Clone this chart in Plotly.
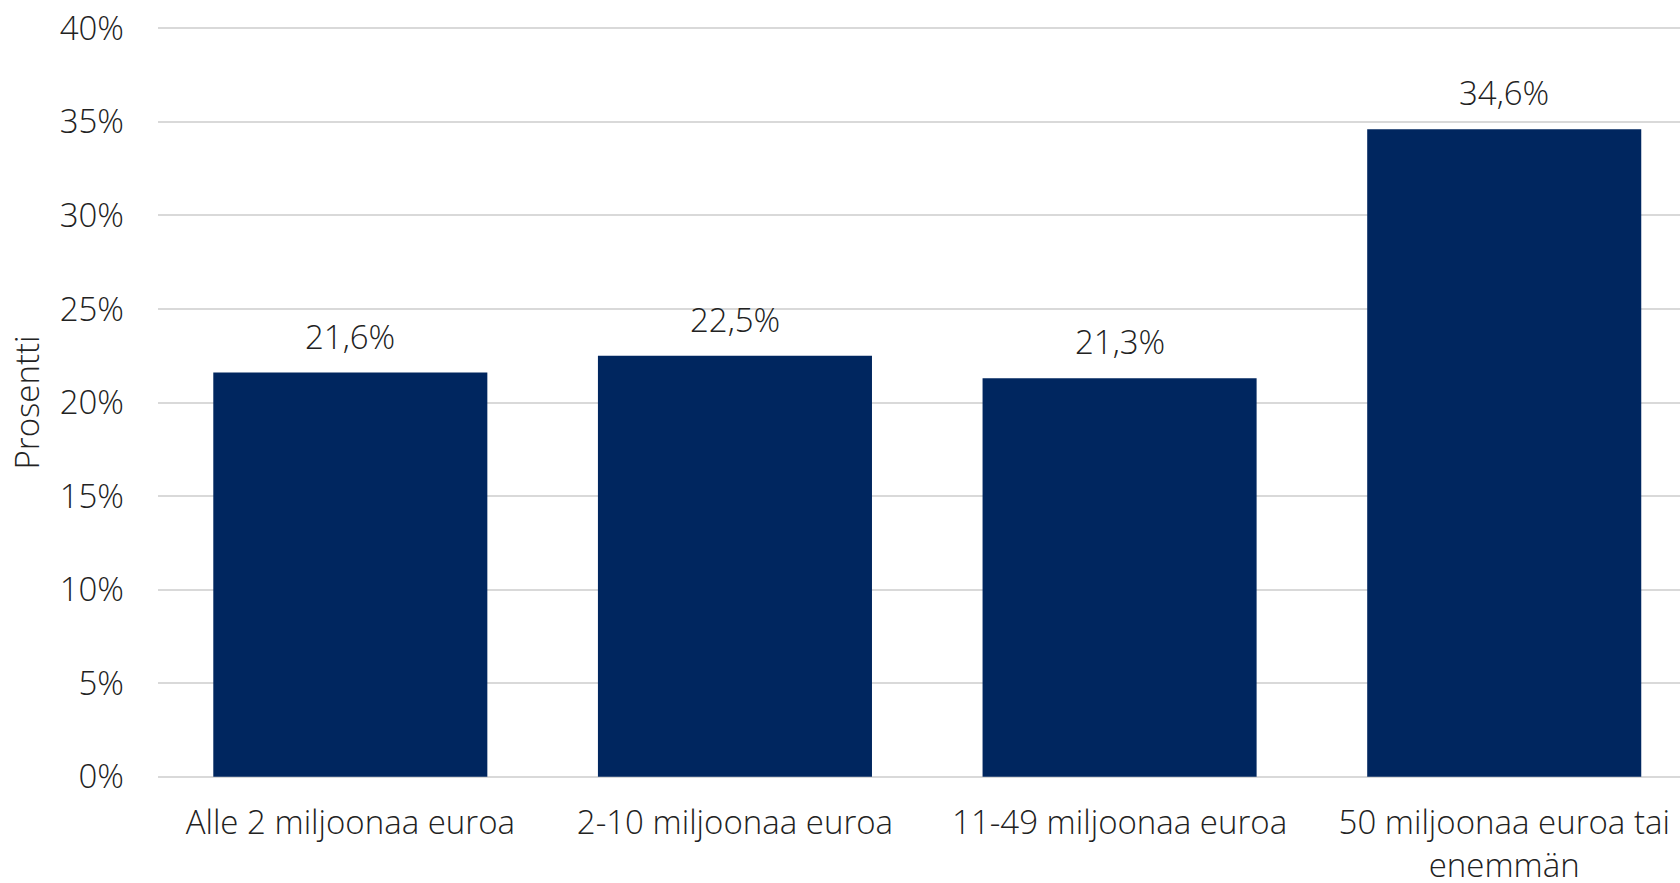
import plotly.graph_objects as go

categories = ["Alle 2 miljoonaa euroa", "2-10 miljoonaa euroa", "11-49 miljoonaa euroa",
              "50 miljoonaa euroa tai<br>enemmän"]
values = [21.6, 22.5, 21.3, 34.6]
tick_vals = [0, 5, 10, 15, 20, 25, 30, 35, 40]
tick_text = [f"{v}%" for v in tick_vals]
labels = [f"{v:.1f}%".replace(".", ",") for v in values]

FONT = "Open Sans"
TXT = "#222222"
FS = 33
xs = list(range(len(categories)))

fig = go.Figure(go.Bar(
    x=xs, y=values,
    marker=dict(color="#00265F", line=dict(width=0)),
))

for xi, v, lab in zip(xs, values, labels):
    fig.add_annotation(x=xi, y=v, text=lab, showarrow=False, yanchor="bottom",
                       yshift=12, font=dict(family=FONT, size=FS, color=TXT, weight=300))

fig.update_layout(
    width=1680, height=883,
    margin=dict(l=158, r=0, t=26, b=104),
    paper_bgcolor="white", plot_bgcolor="white",
    bargap=0.2875, showlegend=False,
    font=dict(family=FONT, size=FS, color=TXT, weight=300),
    xaxis=dict(
        tickmode="array", tickvals=xs, ticktext=categories,
        range=[-0.5, 3.457], showgrid=False, zeroline=False, showline=False,
        ticks="", ticklabelstandoff=21, automargin=False,
        tickfont=dict(family=FONT, size=FS, color=TXT, weight=300),
    ),
    yaxis=dict(
        range=[-0.12, 40.12], tickmode="array", tickvals=tick_vals, ticktext=tick_text,
        showgrid=True, gridcolor="#d9d9d9", gridwidth=2, zeroline=False,
        showline=False, ticks="", ticklabelstandoff=33, automargin=False,
        ticklabeloverflow="allow",
        tickfont=dict(family=FONT, size=FS, color=TXT, weight=300),
        title=dict(text="Prosentti", standoff=10,
                   font=dict(family=FONT, size=FS, color=TXT, weight=300)),
    ),
)

fig.write_html("out.html", config={"displayModeBar": False},
               post_script="document.body.style.margin='0px';document.body.style.overflow='hidden';")
